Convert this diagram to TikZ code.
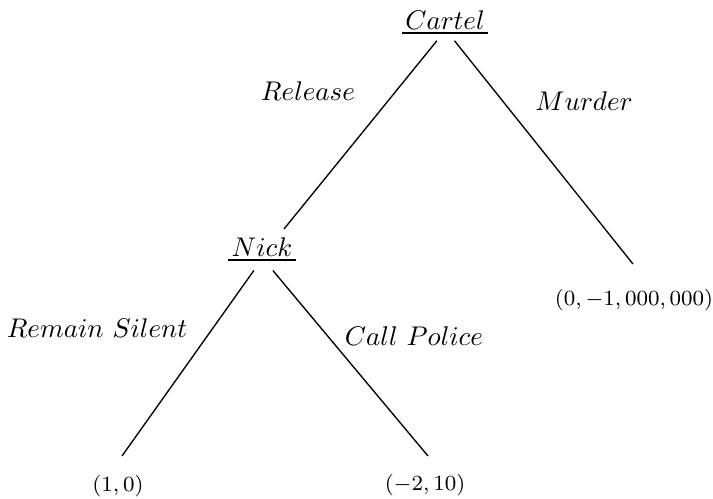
\documentclass[tikz,border=0pt]{standalone}
\begin{document}
\begin{tikzpicture}[x=0.37pt,y=-0.37pt,
  player/.style={inner sep=1pt,font=\normalsize},
  lab/.style={inner sep=0pt},
  payoff/.style={inner sep=0pt,font=\footnotesize},
  edge/.style={line width=0.5pt}]
\useasboundingbox (0,0) rectangle (713,498);
\node[player] (cartel) at (445,20) {$Cartel$};
\draw[line width=0.7pt] (cartel.south west) -- (cartel.south east);
\node[player] (nick) at (262,247) {$Nick$};
\draw[line width=0.7pt] (nick.south west) -- (nick.south east);
\coordinate (nickin) at (284,229);
\coordinate (murderend) at (633,264);
\coordinate (rsend) at (122,456);
\coordinate (cpend) at (428,456);
\node[payoff] (p3) at (634,300) {$(0,-1,000,000)$};
\node[payoff] (p1) at (118,486) {$(1,0)$};
\node[payoff] (p2) at (425,485) {$(-2,10)$};
\draw[edge] ([xshift=-3pt,yshift=-3pt]cartel.south) -- (nickin);
\draw[edge] ([xshift=3.5pt,yshift=-3pt]cartel.south) -- (murderend);
\draw[edge] ([xshift=-3pt,yshift=-4pt]nick.south) -- (rsend);
\draw[edge] ([xshift=4pt,yshift=-4pt]nick.south) -- (cpend);
\node[lab] (release) at (308,91) {$Release$};
\node[lab] (murder) at (584,101) {$Murder$};
\node[lab] (silent) at (97,328) {$Remain\ Silent$};
\node[lab] (police) at (414,336) {$Call\ Police$};
\end{tikzpicture}
\end{document}
